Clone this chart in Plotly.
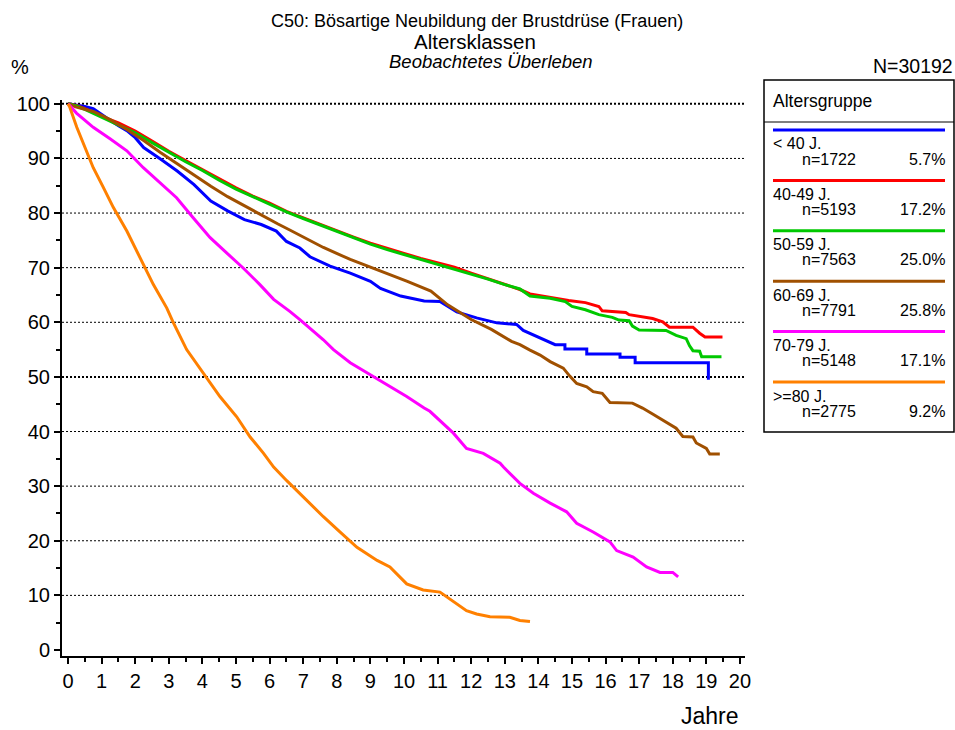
import plotly.graph_objects as go

# ---------------- data ----------------
groups = ["< 40 J.", "40-49 J.", "50-59 J.", "60-69 J.", "70-79 J.", ">=80 J."]
group_n = ["n=1722", "n=5193", "n=7563", "n=7791", "n=5148", "n=2775"]
group_pct = ["5.7%", "17.2%", "25.0%", "25.8%", "17.1%", "9.2%"]
total_n = "N=30192"

t_lt40 = [0, 0.25, 0.5, 0.75, 1.0, 1.25, 1.5, 1.75, 2.0, 2.25, 2.75, 3.25, 3.75, 4.25, 4.75,
          5.25, 5.75, 6.2, 6.5, 6.9, 7.2, 7.8, 8.4, 9.0, 9.3, 9.9, 10.6, 11.07, 11.57, 12.16,
          12.76, 13.35, 13.55, 14.05, 14.5, 14.79, 14.79, 15.44, 15.44, 16.43, 16.43, 16.88,
          16.88, 19.06, 19.06]
s_lt40 = [100, 99.8, 99.5, 99.1, 98.0, 97.0, 96.0, 95.1, 93.8, 92.0, 89.9, 87.7, 85.2, 82.2, 80.4,
          78.8, 77.9, 76.7, 74.8, 73.6, 72.0, 70.3, 69.0, 67.5, 66.2, 64.8, 63.9, 63.8, 61.9, 60.8,
          59.9, 59.6, 58.5, 57.1, 55.9, 55.9, 55.1, 55.1, 54.2, 54.2, 53.6, 53.6,
          52.6, 52.6, 49.5]

t_40_49 = [0, 0.25, 0.5, 0.75, 1.0, 1.5, 2.0, 2.5, 3.0, 3.5, 4.0, 4.5, 5.0, 5.5, 6.0, 6.5, 7.0,
           7.5, 8.0, 8.5, 9.0, 9.5, 10.0, 10.5, 11.0, 11.5, 12.0, 12.5, 13.0, 13.45, 13.75, 14.3,
           14.9, 15.4, 15.8, 15.9, 16.6, 16.7, 17.4, 17.7, 17.9, 18.6, 18.7, 18.8, 18.96, 19.48]
s_40_49 = [100, 99.7, 99.1, 98.4, 97.7, 96.5, 95.0, 93.2, 91.3, 89.6, 87.9, 86.2, 84.6, 83.1,
           81.8, 80.3, 79.1, 78.0, 76.8, 75.6, 74.5, 73.5, 72.6, 71.7, 70.9, 70.1, 69.0, 68.0,
           67.0, 66.0, 65.2, 64.6, 64.0, 63.6, 62.9, 62.1, 61.8, 61.4, 60.7, 60.1, 59.1, 59.1,
           58.5, 58.0, 57.3, 57.3]

t_50_59 = [0, 0.25, 0.5, 0.75, 1.0, 1.5, 2.0, 2.5, 3.0, 3.5, 4.0, 4.5, 5.0, 5.5, 6.0, 6.5, 7.0,
           7.5, 8.0, 8.5, 9.0, 9.5, 10.0, 10.5, 11.0, 11.5, 12.0, 12.5, 13.0, 13.45, 13.75, 14.35,
           14.8, 15.0, 15.4, 15.8, 16.2, 16.4, 16.7, 16.8, 17.0, 17.8, 18.1, 18.4, 18.5, 18.6,
           18.8, 18.86, 19.45]
s_50_59 = [100, 99.6, 99.0, 98.3, 97.5, 96.2, 94.7, 92.9, 91.1, 89.4, 87.8, 86.0, 84.4, 83.0,
           81.6, 80.2, 79.0, 77.8, 76.6, 75.4, 74.3, 73.3, 72.4, 71.5, 70.7, 69.8, 68.8, 67.9,
           66.9, 66.1, 64.8, 64.4, 63.8, 62.9, 62.3, 61.4, 60.9, 60.4, 60.3, 59.3, 58.6, 58.5,
           57.6, 57.0, 55.7, 54.8, 54.7, 53.7, 53.7]

t_60_69 = [0, 0.25, 0.5, 0.75, 1.0, 1.25, 1.75, 2.25, 2.75, 3.25, 3.75, 4.25, 4.75, 5.25, 5.75,
           6.25, 6.6, 6.9, 7.6, 8.4, 9.3, 10.1, 10.8, 11.3, 12.0, 12.6, 13.2, 13.45, 13.75, 14.05,
           14.35, 14.74, 14.94, 15.14, 15.44, 15.63, 15.9, 16.13, 16.8, 17.1, 17.4, 17.7, 17.9,
           18.1, 18.3, 18.6, 18.7, 19.0, 19.1, 19.4]
s_60_69 = [100, 99.4, 99.0, 98.6, 97.9, 97.1, 95.3, 93.3, 91.1, 89.0, 86.9, 84.9, 83.0, 81.3,
           79.6, 78.0, 76.9, 75.9, 73.7, 71.5, 69.4, 67.5, 65.7, 63.2, 60.5, 58.7, 56.5, 55.9,
           54.9, 54.0, 52.8, 51.6, 50.1, 48.8, 48.2, 47.3, 47.0, 45.3, 45.2, 44.3, 43.2, 42.1,
           41.3, 40.6, 39.1, 39.0, 37.9, 36.9, 35.9, 35.9]

t_70_79 = [0, 0.05, 0.25, 0.5, 0.75, 1.25, 1.75, 2.24, 2.74, 3.23, 3.73, 4.23, 4.72, 5.22, 5.71,
           6.12, 6.6, 6.9, 7.6, 7.9, 8.4, 9.09, 9.58, 10.08, 10.6, 10.77, 11.47, 11.86, 12.36,
           12.86, 12.96, 13.45, 13.85, 14.35, 14.84, 15.14, 15.63, 16.13, 16.33, 16.82, 17.22,
           17.62, 18.0, 18.16]
s_70_79 = [100, 99.7, 98.3, 97.0, 95.7, 93.6, 91.4, 88.3, 85.6, 82.8, 79.1, 75.5, 72.7, 69.9,
           66.9, 64.2, 62.0, 60.5, 56.8, 55.0, 52.6, 50.1, 48.3, 46.4, 44.3, 43.7, 39.7, 36.9,
           36.0, 34.2, 33.5, 30.5, 28.7, 26.9, 25.3, 23.2, 21.6, 19.8, 18.2, 17.0, 15.2, 14.2,
           14.2, 13.4]

t_ge80 = [0, 0.05, 0.26, 0.5, 0.75, 1.05, 1.35, 1.75, 2.14, 2.54, 2.94, 3.13, 3.53, 4.03, 4.52,
          5.02, 5.42, 5.82, 6.12, 6.51, 6.9, 7.2, 7.6, 8.1, 8.6, 9.2, 9.58, 10.08, 10.57, 11.07,
          11.57, 11.86, 12.16, 12.56, 13.15, 13.45, 13.75]
s_ge80 = [100, 99.4, 95.7, 92.0, 88.3, 84.7, 81.0, 76.7, 71.8, 66.9, 62.6, 60.0, 55.0, 50.7, 46.4,
          42.7, 39.0, 36.0, 33.5, 31.0, 28.6, 26.8, 24.4, 21.6, 18.8, 16.4, 15.2, 12.1, 11.0,
          10.6, 8.4, 7.2, 6.6, 6.1, 6.0, 5.4, 5.2]

times = [t_lt40, t_40_49, t_50_59, t_60_69, t_70_79, t_ge80]
surv = [s_lt40, s_40_49, s_50_59, s_60_69, s_70_79, s_ge80]

grid_levels = [10, 20, 30, 40, 50, 60, 70, 80, 90, 100]
bold_levels = [50, 100]

# ---------------- style ----------------
colors = ["#0000FF", "#FF0000", "#00C800", "#A05000", "#FF00FF", "#FF8000"]
FONT = "Liberation Sans, Arial, sans-serif"
W, H = 955, 730
L, R, T, B = 62, 745, 100, 656  # plot area in pixels


def px(x):
    return (x - L) / (R - L)


def py(y):
    return (B - y) / (B - T)


fig = go.Figure()
for name, t, s, c in zip(groups, times, surv, colors):
    fig.add_trace(go.Scatter(x=t, y=s, mode="lines", name=name,
                             line=dict(color=c, width=3), showlegend=False))

shapes = []
for g in grid_levels:
    shapes.append(dict(type="line", xref="paper", x0=0, x1=1, yref="y", y0=g, y1=g,
                       line=dict(color="black", width=2 if g in bold_levels else 1,
                                 dash="2px,2px"), layer="below"))

# legend box
shapes.append(dict(type="rect", xref="paper", yref="paper", x0=px(764), x1=px(954),
                   y0=py(80), y1=py(432), line=dict(color="black", width=1.5)))
shapes.append(dict(type="line", xref="paper", yref="paper", x0=px(764), x1=px(954),
                   y0=py(122), y1=py(122), line=dict(color="black", width=1)))

annotations = [
    dict(text="C50: Bösartige Neubildung der Brustdrüse (Frauen)", x=px(477), y=py(21),
         font=dict(size=18)),
    dict(text="Altersklassen", x=px(475), y=py(41), font=dict(size=20.5)),
    dict(text="<i>Beobachtetes Überleben</i>", x=px(491), y=py(62), font=dict(size=18.5)),
    dict(text="%", x=px(20), y=py(67), font=dict(size=20)),
    dict(text=total_n, x=px(953), y=py(66), xanchor="right", font=dict(size=19.5)),
    dict(text="Jahre", x=px(710), y=py(716), font=dict(size=23)),
    dict(text="Altersgruppe", x=px(773), y=py(101), xanchor="left", font=dict(size=17.5)),
]
for i, (g, n, p, c) in enumerate(zip(groups, group_n, group_pct, colors)):
    ly = 130 + i * 50.4
    shapes.append(dict(type="line", xref="paper", yref="paper", x0=px(773), x1=px(945),
                       y0=py(ly), y1=py(ly), line=dict(color=c, width=3)))
    annotations.append(dict(text=g.replace("<", "&lt;").replace(">", "&gt;"), x=px(773),
                            y=py(ly + 14), xanchor="left", font=dict(size=16)))
    annotations.append(dict(text=n, x=px(802), y=py(ly + 29), xanchor="left",
                            font=dict(size=16)))
    annotations.append(dict(text=p, x=px(945), y=py(ly + 29), xanchor="right",
                            font=dict(size=16)))

for a in annotations:
    a.setdefault("xref", "paper")
    a.setdefault("yref", "paper")
    a.setdefault("showarrow", False)
    a.setdefault("xanchor", "center")
    a.setdefault("yanchor", "middle")
    a.setdefault("borderpad", 0)
    a.setdefault("borderwidth", 0)
    a["font"].setdefault("color", "black")
    a["font"].setdefault("family", FONT)

fig.update_layout(
    width=W, height=H,
    margin=dict(l=L, r=W - R, t=T, b=H - B, pad=0),
    paper_bgcolor="white", plot_bgcolor="white",
    font=dict(family=FONT, color="black", size=19),
    shapes=shapes, annotations=annotations, showlegend=False,
    xaxis=dict(range=[-0.18, 20.15], tickmode="linear", tick0=0, dtick=1,
               ticks="outside", ticklen=6, tickwidth=1.5, tickcolor="black",
               showline=True, linewidth=2, linecolor="black", showgrid=False,
               zeroline=False, tickfont=dict(size=20),
               minor=dict(tick0=0, dtick=0.5, ticks="outside", ticklen=4,
                          tickwidth=1.5, tickcolor="black", showgrid=False)),
    yaxis=dict(range=[-1.1, 100.7], tickmode="linear", tick0=0, dtick=10,
               ticks="outside", ticklen=6, tickwidth=1.5, tickcolor="black",
               showline=True, linewidth=2, linecolor="black", showgrid=False,
               zeroline=False, tickfont=dict(size=20),
               minor=dict(tick0=0, dtick=5, ticks="outside", ticklen=4,
                          tickwidth=1.5, tickcolor="black", showgrid=False)),
)

fig.write_html("out.html", config={"displayModeBar": False},
               post_script="document.body.style.margin='0px';document.body.style.padding='0px';")
